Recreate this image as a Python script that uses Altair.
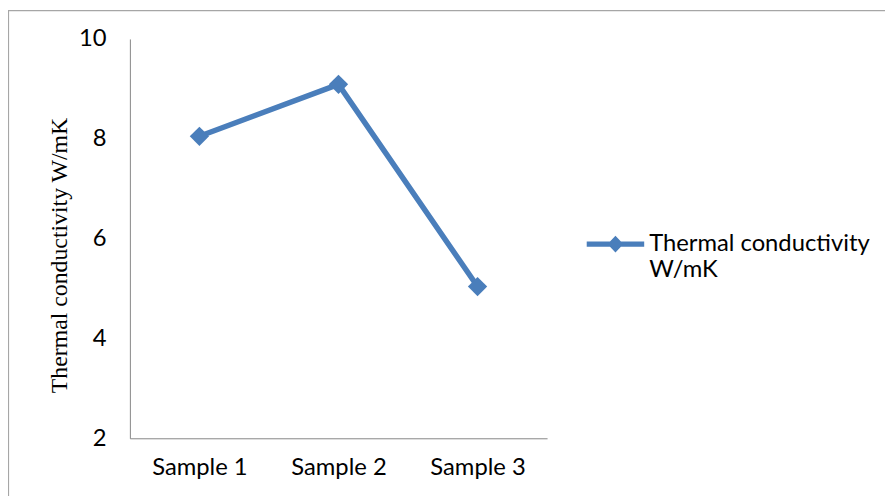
import altair as alt
import pandas as pd

samples = ["Sample 1", "Sample 2", "Sample 3"]
conductivity = [8.05, 9.09, 5.04]
series_name = ["Thermal conductivity W/mK"] * 3
y_ticks = [2, 4, 6, 8, 10]

df = pd.DataFrame({"sample": samples, "value": conductivity, "series": series_name})

BLUE = "#4a7ebb"
SANS = "Lato"
SERIF = "Liberation Serif"

legend_path = ("M -1 -0.09 L -0.19 -0.09 L 0 -0.29 L 0.19 -0.09 L 1 -0.09 "
               "L 1 0.09 L 0.19 0.09 L 0 0.29 L -0.19 0.09 L -1 0.09 Z")

base = alt.Chart(df)

line = base.mark_line(
    strokeWidth=5.5,
    point=alt.OverlayMarkDef(shape="diamond", size=380, filled=True, color=BLUE, opacity=1),
).encode(
    x=alt.X("sample:N", sort=samples, title=None,
            scale=alt.Scale(type="point", padding=0.5),
            axis=alt.Axis(labelAngle=0, ticks=False, domainColor="#868686",
                          labelFont=SANS, labelFontSize=24, labelColor="#000000",
                          labelPadding=18, grid=False)),
    y=alt.Y("value:Q", title="Thermal conductivity W/mK",
            scale=alt.Scale(domain=[2, 10], nice=False, zero=False),
            axis=alt.Axis(values=y_ticks, ticks=False, grid=False, domainColor="#868686",
                          labelFont=SANS, labelFontSize=24, labelColor="#000000",
                          labelPadding=24,
                          titleFont=SERIF, titleFontSize=24, titleFontWeight="normal",
                          titleColor="#000000", titleAngle=270, titleAlign="center",
                          titleBaseline="middle", titleX=-71, titleY=218)),
    color=alt.Color("series:N", scale=alt.Scale(range=[BLUE]),
                    legend=alt.Legend(title=None, orient="none", legendX=461, legendY=178,
                                      symbolType=legend_path, symbolSize=3364,
                                      symbolFillColor=BLUE, symbolStrokeWidth=0,
                                      labelFont=SANS, labelFontSize=24, labelColor="#000000",
                                      labelOffset=5, labelLimit=400, padding=0,
                                      labelExpr="['Thermal conductivity', 'W/mK']")),
)

frame = alt.Chart(pd.DataFrame({"a": [0]})).mark_rect(
    fill=None, stroke="#a6a6a6", strokeWidth=1.2
).encode(x=alt.value(-122.5), y=alt.value(-28.5), x2=alt.value(900), y2=alt.value(600))

chart = alt.layer(frame, line).properties(
    width=421, height=403,
    autosize=alt.AutoSizeParams(type="none"),
    padding={"left": 123, "top": 29, "right": 341, "bottom": 56},
    background="white",
).configure_view(stroke=None)

chart.save("out.html", embed_options={"renderer": "svg", "actions": False})
